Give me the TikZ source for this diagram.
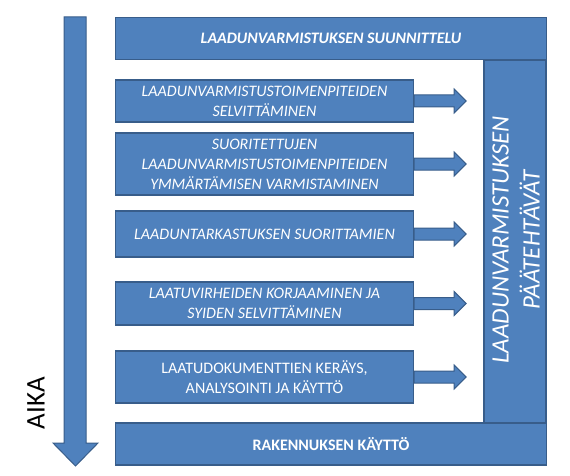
\documentclass[tikz,border=0pt]{standalone}
\usepackage{fontspec}
\setmainfont{Carlito}
\usetikzlibrary{calc}
\definecolor{boxblue}{HTML}{4F81BD}
\definecolor{edgeblue}{HTML}{385D8A}
\tikzset{
  stepbox/.style={
    draw = edgeblue,
    fill = boxblue,
    line width = 1.3pt,
    text = white,
    align = center,
    inner sep = 0pt,
    minimum width = 298pt,
    font = \fontsize{16}{20}\selectfont\itshape
  },
  widebox/.style={
    stepbox,
    minimum width = 431pt,
    minimum height = 42pt
  },
  blockarrow/.style={
    draw = edgeblue,
    fill = boxblue,
    line width = 1pt
  }
}
\begin{document}
\begin{tikzpicture}[x=1pt,y=-1pt]
  \useasboundingbox (0,0) rectangle (570,476);
  % time arrow
  \filldraw[blockarrow] (64,17) -- (86,17) -- (86,443) -- (98,443) -- (75.5,466)
    -- (53,443) -- (64,443) -- cycle;
  \node[rotate=90, font=\fontsize{27}{30}\selectfont] (aika) at (36,403) {AIKA};
  % frame
  \node[stepbox, minimum width=62pt, minimum height=363pt] (tasks) at (515,241.5) {};
  \node[rotate=90, text=white, align=center, font=\fontsize{25}{31}\selectfont\itshape]
    (tasklabel) at (516,240) {LAADUNVARMISTUKSEN\\PÄÄTEHTÄVÄT};
  \node[widebox, font=\fontsize{16}{20}\selectfont\bfseries\itshape] (plan) at (331,38.5)
    {LAADUNVARMISTUKSEN SUUNNITTELU};
  \node[widebox, font=\fontsize{16}{20}\selectfont\bfseries] (use) at (331,444)
    {RAKENNUKSEN KÄYTTÖ};
  % steps
  \node[stepbox, minimum height=42pt] (s1) at (264.5,101)
    {LAADUNVARMISTUSTOIMENPITEIDEN\\SELVITTÄMINEN};
  \node[stepbox, minimum height=62pt] (s2) at (264.5,164)
    {SUORITETTUJEN\\LAADUNVARMISTUSTOIMENPITEIDEN\\YMMÄRTÄMISEN VARMISTAMINEN};
  \node[stepbox, minimum height=46pt] (s3) at (264.5,234)
    {LAADUNTARKASTUKSEN SUORITTAMIEN};
  \node[stepbox, minimum height=43pt] (s4) at (264.5,303.5)
    {LAATUVIRHEIDEN KORJAAMINEN JA\\SYIDEN SELVITTÄMINEN};
  \node[stepbox, minimum height=52pt, font=\fontsize{16}{20}\selectfont] (s5) at (264.5,377)
    {LAATUDOKUMENTTIEN KERÄYS,\\ANALYSOINTI JA KÄYTTÖ};
  % arrows towards the frame
  \foreach \s in {s1,s2,s3,s4,s5}{
    \filldraw[blockarrow] ($(\s.east)+(0,-6)$) -- ++(40,0) -- ++(0,-6) -- ++(12,12)
      -- ++(-12,12) -- ++(0,-6) -- ++(-40,0) -- cycle;
  }
\end{tikzpicture}
\end{document}
